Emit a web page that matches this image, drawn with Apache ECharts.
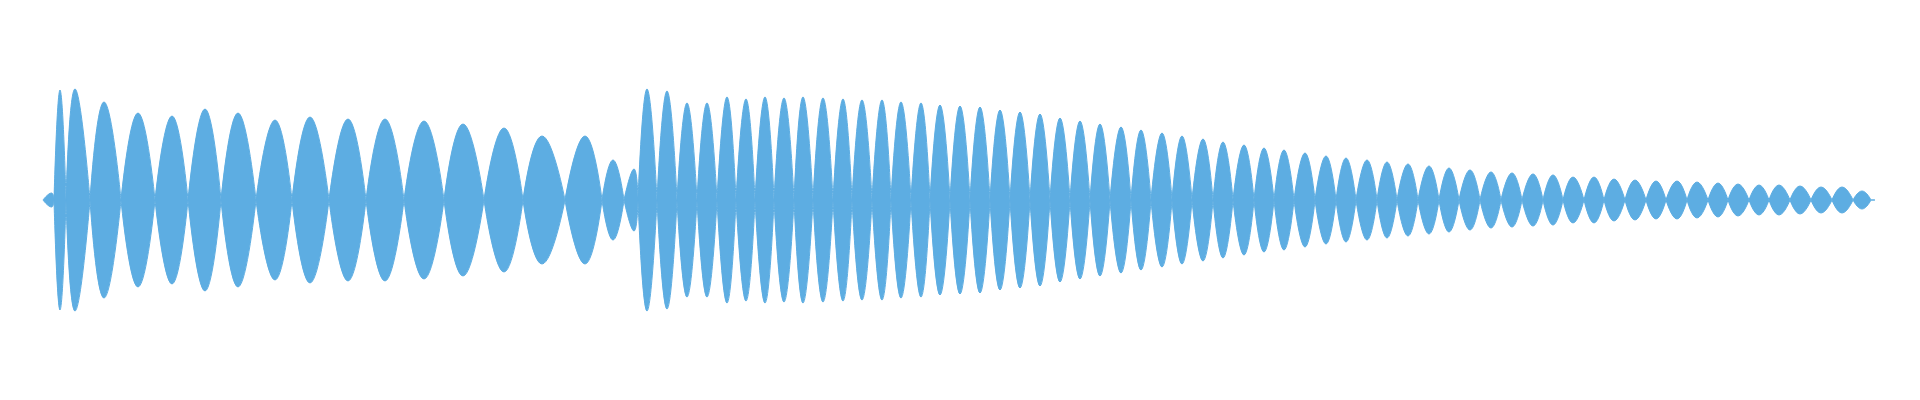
<!DOCTYPE html>
<html>
<head>
<meta charset="utf-8">
<title>Waveform</title>
<script src="https://cdn.jsdelivr.net/npm/echarts@6/dist/echarts.min.js"></script>
<style>
  html, body { margin: 0; padding: 0; background: #ffffff; }
  #chart { width: 1920px; height: 400px; }
</style>
</head>
<body>
<div id="chart"></div>
<script>
// Zero crossings of the envelope (time positions)
const zeroX = [43, 54, 66, 90, 121, 155, 188, 221, 256, 292,
  329, 366, 404, 444, 484, 523, 565, 602, 624, 638,
  657, 677, 697, 717, 736, 755, 774, 794, 813, 833,
  852, 872, 891, 911, 930, 950, 970, 990, 1010, 1030,
  1050, 1070, 1090, 1110, 1131, 1151, 1172, 1192, 1213, 1233,
  1254, 1274, 1294, 1315, 1336, 1356, 1377, 1397, 1418, 1439,
  1459, 1480, 1501, 1522, 1543, 1563, 1584, 1604, 1625, 1646,
  1666, 1687, 1708, 1728, 1749, 1769, 1790, 1811, 1832, 1853,
  1871];
// Position of each lobe's peak
const peakX = [51.5, 60, 75, 104, 138, 172, 205, 238, 275, 310,
  348, 385, 424, 463, 504, 542, 585, 613, 634, 647,
  667, 687, 707, 727, 746, 765, 784, 803, 823, 843,
  862, 882, 901, 921, 940, 960, 980, 1000, 1020, 1040,
  1060, 1080, 1100, 1121, 1141, 1162, 1182, 1203, 1223, 1244,
  1264, 1284, 1305, 1326, 1346, 1367, 1387, 1408, 1429, 1449,
  1470, 1491, 1512, 1533, 1553, 1573, 1594, 1614, 1635, 1656,
  1677, 1697, 1718, 1738, 1759, 1779, 1800, 1821, 1842, 1862];
// Peak amplitude of each lobe
const peakAmp = [7, 110, 111, 98, 87, 84, 91, 87, 80, 83,
  81, 81, 79, 76, 72, 64, 64, 40, 31, 111,
  109, 97, 97, 103, 101, 103, 102, 103, 102, 101,
  100, 100, 98, 97, 95, 94, 93, 90, 88, 86,
  82, 79, 76, 73, 70, 67, 64, 61, 58, 55,
  52, 50, 47, 44, 42, 40, 38, 36, 34, 32,
  30, 28, 27, 26, 25, 23, 23, 21, 20, 19,
  19, 18, 17, 16, 15, 15, 14, 13, 13, 9];
// Short flat tail after the last lobe
const tailX = [1871, 1875];

const COLOR = '#5dade2';

function buildEnvelope(sign) {
  const pts = [];
  for (let i = 0; i < peakAmp.length; i++) {
    pts.push([zeroX[i], 0]);
    pts.push([peakX[i], sign * peakAmp[i]]);
    pts.push([zeroX[i + 1], 0]);
    pts.push([zeroX[i + 1], null]); // break so each lobe meets the next at a sharp point
  }
  pts.push([tailX[0], 0]);
  pts.push([tailX[1], 0]);
  return pts;
}

const chart = echarts.init(document.getElementById('chart'), null, { renderer: 'canvas' });

const seriesCommon = {
  type: 'line',
  smooth: 0.5,
  connectNulls: false,
  showSymbol: false,
  symbol: 'none',
  silent: true,
  lineStyle: { color: COLOR, width: 1 },
  itemStyle: { color: COLOR },
  areaStyle: { color: COLOR, opacity: 1, origin: 0 }
};

chart.setOption({
  animation: false,
  backgroundColor: '#ffffff',
  grid: { left: 0, right: 0, top: 0, bottom: 0, containLabel: false },
  xAxis: { type: 'value', min: 0, max: 1920, show: false },
  yAxis: { type: 'value', min: -200, max: 200, show: false },
  series: [
    Object.assign({ name: 'upper', data: buildEnvelope(1) }, seriesCommon),
    Object.assign({ name: 'lower', data: buildEnvelope(-1) }, seriesCommon)
  ]
});
</script>
</body>
</html>
